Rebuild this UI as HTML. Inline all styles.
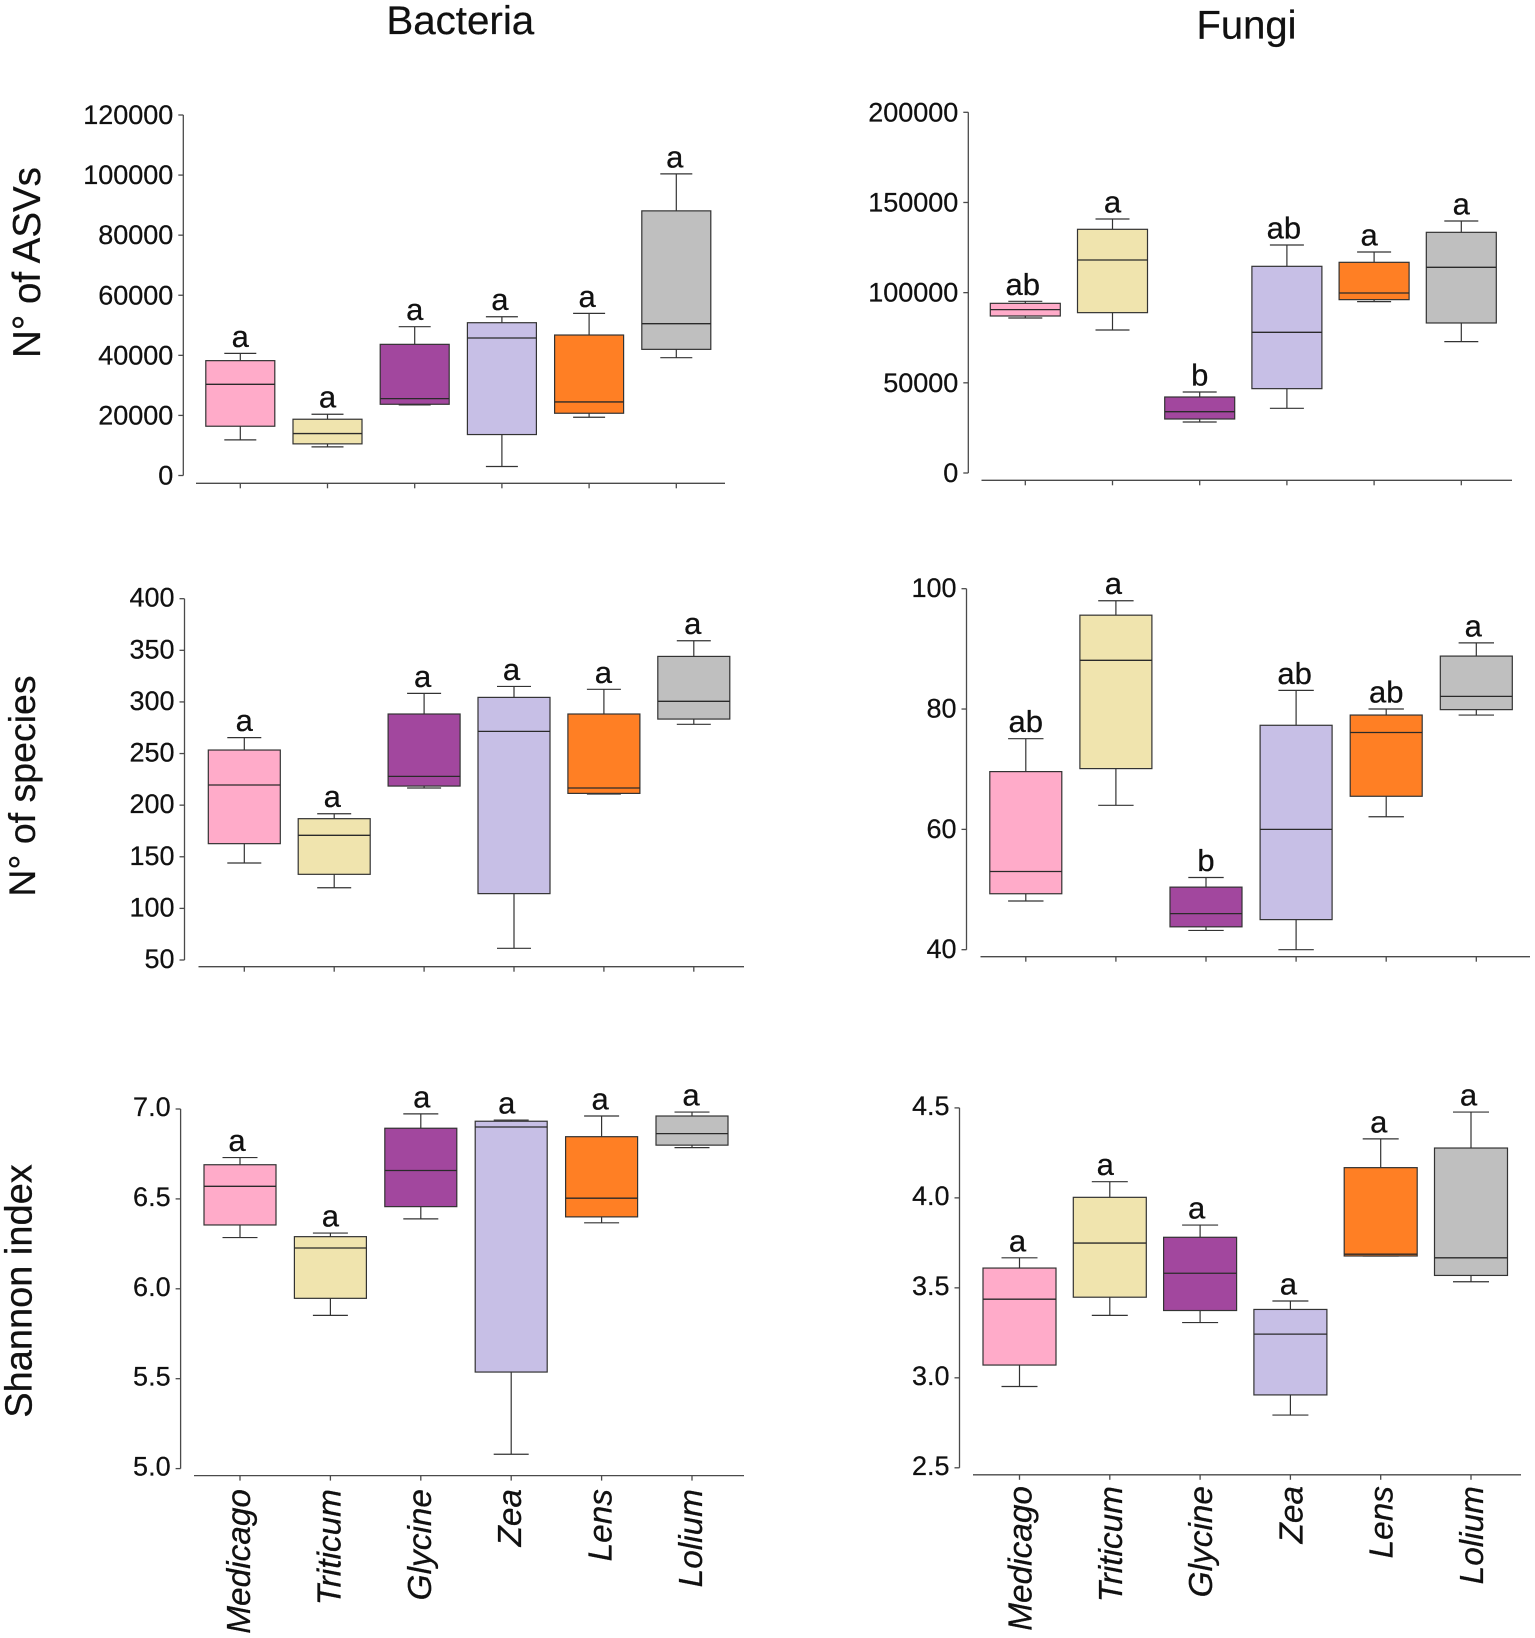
<!DOCTYPE html>
<html lang="en">
<head>
<meta charset="utf-8">
<title>Bacteria and Fungi diversity box plots</title>
<style>
html,body{margin:0;padding:0;background:#fff;}
svg{display:block;}
text{font-family:"Liberation Sans",Arial,sans-serif;fill:#111;stroke:#111;stroke-width:0.25;}
</style>
</head>
<body>
<svg id="figure" xmlns="http://www.w3.org/2000/svg" width="1535" height="1638" viewBox="0 0 1535 1638">
<rect x="0" y="0" width="1535" height="1638" fill="#ffffff"/>
<text x="460.3" y="34" font-size="40.3" text-anchor="middle">Bacteria</text>
<text x="1246.5" y="38.7" font-size="40" text-anchor="middle">Fungi</text>
<text transform="translate(40,262.5) rotate(-90)" font-size="38.5" text-anchor="middle">N° of ASVs</text>
<text transform="translate(35,786) rotate(-90)" font-size="37.5" text-anchor="middle">N° of species</text>
<text transform="translate(31.5,1291) rotate(-90)" font-size="38" text-anchor="middle">Shannon index</text>
</svg>
<script>
const categories = ['Medicago','Triticum','Glycine','Zea','Lens','Lolium'];

// Bacteria - N of ASVs
const bacteriaAsvTicks = [0,20000,40000,60000,80000,100000,120000];
const bacteriaAsvHigh = [40660,20390,49530,52850,53960,100390];
const bacteriaAsvQ3 = [38230,18730,43660,50860,46760,88090];
const bacteriaAsvMedian = [30360,13960,25600,45760,24490,50530];
const bacteriaAsvQ1 = [16400,10530,23710,13630,20720,41990];
const bacteriaAsvLow = [11860,9530,23490,2990,19390,39220];
const bacteriaAsvLetters = ['a','a','a','a','a','a'];

// Fungi - N of ASVs
const fungiAsvTicks = [0,50000,100000,150000,200000];
const fungiAsvHigh = [95190,140850,44920,126430,122550,139740];
const fungiAsvQ3 = [94080,135120,42140,114600,116820,133450];
const fungiAsvMedian = [90570,118110,34010,78000,99810,114050];
const fungiAsvQ1 = [87060,88910,29940,46770,96120,83180];
const fungiAsvLow = [85950,79300,28280,35860,95010,72830];
const fungiAsvLetters = ['ab','a','b','ab','a','a'];

// Bacteria - N of species
const bacteriaSpeciesTicks = [50,100,150,200,250,300,350,400];
const bacteriaSpeciesHigh = [265.4,191.7,308.3,315,312.2,359.3];
const bacteriaSpeciesQ3 = [253.4,186.9,288.3,304.4,288.3,344.1];
const bacteriaSpeciesMedian = [219.5,170.8,227.9,271.5,216.6,300.6];
const bacteriaSpeciesQ1 = [162.7,133,218.5,114.3,211.4,283.4];
const bacteriaSpeciesLow = [144,120,216.6,61.3,210.8,278.3];
const bacteriaSpeciesLetters = ['a','a','a','a','a','a'];

// Fungi - N of species
const fungiSpeciesTicks = [40,60,80,100];
const fungiSpeciesHigh = [75.07,98,52,83.1,80,91];
const fungiSpeciesQ3 = [69.6,95.6,50.4,77.3,79,88.8];
const fungiSpeciesMedian = [53,88.1,46,60,76.1,82.1];
const fungiSpeciesQ1 = [49.3,70.1,43.8,45,65.5,79.9];
const fungiSpeciesLow = [48.1,64,43.2,40,62.1,79];
const fungiSpeciesLetters = ['ab','a','b','ab','ab','a'];

// Bacteria - Shannon index
const bacteriaShannonTicks = ['5.0','5.5','6.0','6.5','7.0'];
const bacteriaShannonHigh = [6.73,6.31,6.973,6.938,6.961,6.983];
const bacteriaShannonQ3 = [6.69,6.29,6.893,6.932,6.846,6.961];
const bacteriaShannonMedian = [6.57,6.227,6.658,6.9,6.504,6.863];
const bacteriaShannonQ1 = [6.355,5.947,6.457,5.537,6.4,6.799];
const bacteriaShannonLow = [6.285,5.852,6.389,5.08,6.367,6.785];
const bacteriaShannonLetters = ['a','a','a','a','a','a'];

// Fungi - Shannon index
const fungiShannonTicks = ['2.5','3.0','3.5','4.0','4.5'];
const fungiShannonHigh = [3.667,4.09,3.849,3.427,4.328,4.477];
const fungiShannonQ3 = [3.61,4.003,3.781,3.38,4.168,4.277];
const fungiShannonMedian = [3.437,3.749,3.581,3.243,3.687,3.667];
const fungiShannonQ1 = [3.071,3.448,3.374,2.905,3.677,3.569];
const fungiShannonLow = [2.952,3.347,3.307,2.793,3.677,3.534];
const fungiShannonLetters = ['a','a','a','a','a','a'];

const NS = 'http://www.w3.org/2000/svg';
const svg = document.getElementById('figure');
const boxFills = ['#FFABC9','#F0E4AE','#A2479E','#C7BFE6','#FF7F24','#BFBFBF'];
const LINE = '#333333';
const AXIS = '#4a4a4a';

function make(tag, parent, props) {
  const el = document.createElementNS(NS, tag);
  for (const k in props) { el.setAttribute(k, props[k]); }
  parent.appendChild(el);
  return el;
}

function drawPanel(p) {
  const lo = Number(p.ticks[0]);
  const hi = Number(p.ticks[p.ticks.length - 1]);
  const yScale = v => p.yBottom - (v - lo) / (hi - lo) * (p.yBottom - p.yTop);
  const xScale = i => p.firstX + i * p.stepX;

  const group = make('g', svg, {});
  
  

  const yAxis = make('line', group, {x1:p.axisX, x2:p.axisX, y1:yScale(hi), y2:yScale(lo), stroke:AXIS, 'stroke-width':1.3});
  
  

  p.ticks.forEach(t => {
    const y = yScale(Number(t));
    const mark = make('line', group, {x1:p.axisX - 5, x2:p.axisX, y1:y, y2:y, stroke:AXIS, 'stroke-width':1.3});
    
    
    const label = make('text', group, {x:p.axisX - 10, y:y + p.labelDy, 'font-size':27, 'text-anchor':'end'});
    label.textContent = String(t);
    
    
  });

  const xAxis = make('line', group, {x1:p.baseX0, x2:p.baseX1, y1:p.baseY, y2:p.baseY, stroke:AXIS, 'stroke-width':1.3});
  
  

  categories.forEach((cat, i) => {
    const x = xScale(i);
    const tick = make('line', group, {x1:x, x2:x, y1:p.baseY, y2:p.baseY + 5, stroke:AXIS, 'stroke-width':1.3});
    
    

    const stem = make('line', group, {x1:x, x2:x, y1:yScale(p.high[i]), y2:yScale(p.low[i]), stroke:LINE, 'stroke-width':1.2});
    
    

    const capHigh = make('line', group, {x1:x - p.capW, x2:x + p.capW, y1:yScale(p.high[i]), y2:yScale(p.high[i]), stroke:LINE, 'stroke-width':1.2});
    
    

    const capLow = make('line', group, {x1:x - p.capW, x2:x + p.capW, y1:yScale(p.low[i]), y2:yScale(p.low[i]), stroke:LINE, 'stroke-width':1.2});
    
    

    const box = make('rect', group, {x:x - p.boxW, y:yScale(p.q3[i]), width:2 * p.boxW, height:yScale(p.q1[i]) - yScale(p.q3[i]), fill:boxFills[i], stroke:LINE, 'stroke-width':1.2});
    
    

    const med = make('line', group, {x1:x - p.boxW, x2:x + p.boxW, y1:yScale(p.median[i]), y2:yScale(p.median[i]), stroke:'#2a2a2a', 'stroke-width':1.3});
    
    

    const letter = make('text', group, {x:x + p.letterDx[i], y:yScale(p.high[i]) - 6.5, 'font-size':31, 'text-anchor':'middle'});
    letter.textContent = p.letters[i];
    
    

    if (p.showCategories) {
      const catLabel = make('text', group, {transform:'translate(' + (x + p.catDx) + ',' + p.catEndY + ') rotate(-90)', 'font-size':33.4, 'font-style':'italic', 'text-anchor':'end'});
      catLabel.textContent = cat;
      
      
    }
  });
}

drawPanel({name:'bacteria-asv', ticks:bacteriaAsvTicks, high:bacteriaAsvHigh, q3:bacteriaAsvQ3, median:bacteriaAsvMedian, q1:bacteriaAsvQ1, low:bacteriaAsvLow, letters:bacteriaAsvLetters,
  axisX:183.3, yTop:115, yBottom:475.5, baseX0:196, baseX1:725, baseY:483.3, firstX:240.3, stepX:87.2, boxW:34.5, capW:16, labelDy:9, letterDx:[0,0,0,-2,-2,-1.5]});
drawPanel({name:'fungi-asv', ticks:fungiAsvTicks, high:fungiAsvHigh, q3:fungiAsvQ3, median:fungiAsvMedian, q1:fungiAsvQ1, low:fungiAsvLow, letters:fungiAsvLetters,
  axisX:968.3, yTop:112.3, yBottom:473, baseX0:981.5, baseX1:1512, baseY:480.3, firstX:1025.3, stepX:87.2, boxW:35, capW:17, labelDy:9, letterDx:[-2.5,0,0,-3,-5,0]});
drawPanel({name:'bacteria-species', ticks:bacteriaSpeciesTicks, high:bacteriaSpeciesHigh, q3:bacteriaSpeciesQ3, median:bacteriaSpeciesMedian, q1:bacteriaSpeciesQ1, low:bacteriaSpeciesLow, letters:bacteriaSpeciesLetters,
  axisX:184.5, yTop:598.7, yBottom:960, baseX0:198.5, baseX1:744, baseY:966.7, firstX:244.3, stepX:89.9, boxW:36, capW:17, labelDy:8, letterDx:[0,-2,-1.5,-2.5,-0.5,-1]});
drawPanel({name:'fungi-species', ticks:fungiSpeciesTicks, high:fungiSpeciesHigh, q3:fungiSpeciesQ3, median:fungiSpeciesMedian, q1:fungiSpeciesQ1, low:fungiSpeciesLow, letters:fungiSpeciesLetters,
  axisX:966.5, yTop:588.7, yBottom:949.7, baseX0:980.5, baseX1:1530, baseY:956.7, firstX:1025.8, stepX:90.1, boxW:36, capW:17.7, labelDy:8.5, letterDx:[0,-2.5,0,-1.5,0,-3]});
drawPanel({name:'bacteria-shannon', ticks:bacteriaShannonTicks, high:bacteriaShannonHigh, q3:bacteriaShannonQ3, median:bacteriaShannonMedian, q1:bacteriaShannonQ1, low:bacteriaShannonLow, letters:bacteriaShannonLetters,
  axisX:180.6, yTop:1109, yBottom:1468.6, baseX0:194, baseX1:744, baseY:1475.6, firstX:240, stepX:90.4, boxW:36, capW:17.5, labelDy:7, letterDx:[-3,0,1,-4.5,-1.5,-1], showCategories:true, catDx:10, catEndY:1489});
drawPanel({name:'fungi-shannon', ticks:fungiShannonTicks, high:fungiShannonHigh, q3:fungiShannonQ3, median:fungiShannonMedian, q1:fungiShannonQ1, low:fungiShannonLow, letters:fungiShannonLetters,
  axisX:959.5, yTop:1107.9, yBottom:1467.8, baseX0:973, baseX1:1521, baseY:1474.8, firstX:1019.5, stepX:90.3, boxW:36.5, capW:18, labelDy:7, letterDx:[-2,-4.5,-3.5,-2,-2,-2.5], showCategories:true, catDx:12, catEndY:1486});
</script>
</body>
</html>
